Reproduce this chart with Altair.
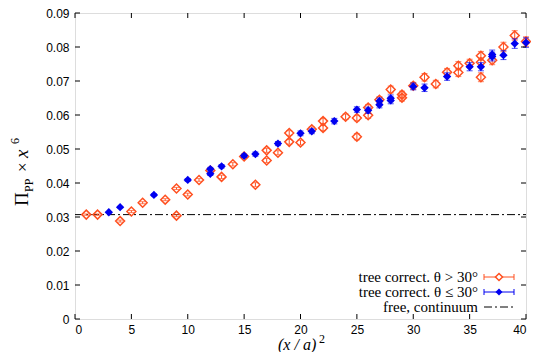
import altair as alt
import pandas as pd

# ---- data ----
orange_x = [1, 2, 4, 5, 6, 8, 9, 9, 10, 11, 12, 13, 14, 15, 16, 17, 17, 18, 19, 19,
            20, 21, 22, 22, 24, 25, 25, 26, 26, 27, 28, 29, 29, 30, 31, 32, 33, 34, 34, 35,
            36, 36, 36, 37, 38, 39, 40]
orange_y = [0.0307, 0.0307, 0.0288, 0.0316, 0.0342, 0.0351, 0.0384, 0.0304, 0.0366, 0.0409,
            0.0437, 0.0418, 0.0455, 0.0478, 0.0395, 0.0496, 0.0466, 0.0489, 0.0547, 0.0521,
            0.0519, 0.0558, 0.0582, 0.0562, 0.0595, 0.0591, 0.0536, 0.0622, 0.0599, 0.0645,
            0.0675, 0.0660, 0.0651, 0.0686, 0.0711, 0.0691, 0.0726, 0.0745, 0.0725, 0.0752,
            0.0774, 0.0755, 0.0711, 0.0761, 0.0800, 0.0834, 0.0816]
orange_err = [0.0002, 0.0002, 0.0003, 0.0003, 0.0003, 0.0003, 0.0003, 0.0003, 0.0004, 0.0004,
              0.0005, 0.0005, 0.0005, 0.0005, 0.0006, 0.0006, 0.0006, 0.0006, 0.0007, 0.0007,
              0.0007, 0.0007, 0.0008, 0.0008, 0.0008, 0.0008, 0.0009, 0.0009, 0.0009, 0.0009,
              0.0010, 0.0010, 0.0010, 0.0010, 0.0011, 0.0011, 0.0011, 0.0012, 0.0012, 0.0012,
              0.0013, 0.0013, 0.0013, 0.0013, 0.0014, 0.0014, 0.0014]

blue_x = [3, 4, 7, 10, 12, 12, 13, 15, 16, 18, 20, 21, 23, 25, 26, 27, 27, 28, 28, 30,
          31, 33, 35, 36, 37, 37, 38, 39, 40]
blue_y = [0.0314, 0.0329, 0.0365, 0.0409, 0.0441, 0.0427, 0.0449, 0.0480, 0.0485, 0.0516,
          0.0546, 0.0552, 0.0582, 0.0616, 0.0614, 0.0641, 0.0630, 0.0649, 0.0643, 0.0684,
          0.0680, 0.0713, 0.0742, 0.0742, 0.0778, 0.0772, 0.0776, 0.0810, 0.0813]
blue_err = [0.0002, 0.0002, 0.0003, 0.0004, 0.0005, 0.0005, 0.0005, 0.0005, 0.0006, 0.0006,
            0.0007, 0.0007, 0.0008, 0.0008, 0.0009, 0.0009, 0.0009, 0.0010, 0.0010, 0.0010,
            0.0011, 0.0011, 0.0012, 0.0012, 0.0013, 0.0013, 0.0013, 0.0014, 0.0014]

free_x = [0, 40]
free_y = [0.0307, 0.0307]

x_ticks = [0, 5, 10, 15, 20, 25, 30, 35, 40]
y_ticks = [0, 0.01, 0.02, 0.03, 0.04, 0.05, 0.06, 0.07, 0.08, 0.09]

legend_labels = ["tree correct. \u03b8 > 30\u00b0", "tree correct. \u03b8 \u2264 30\u00b0", "free, continuum"]

# ---- styling ----
W, H = 451, 306
ORANGE = "#ff5020"
BLUE = "#0000f0"
SERIF = "Liberation Serif"
SANS = "Liberation Sans"

xscale = alt.Scale(domain=[0, 40], nice=False, zero=False)
yscale = alt.Scale(domain=[0, 0.09], nice=False, zero=False)
xaxis = alt.Axis(title=None, ticks=False, domain=False, grid=False, values=x_ticks,
                 labelFont=SANS, labelFontSize=12, labelColor="black", labelPadding=5)
yaxis = alt.Axis(title=None, ticks=False, domain=False, grid=False, values=y_ticks,
                 labelFont=SANS, labelFontSize=12, labelColor="black", labelPadding=6,
                 labelExpr="datum.value == 0 ? '0' : format(datum.value, '.2f')")
X = alt.X("x:Q", scale=xscale, axis=xaxis)
Y = alt.Y("y:Q", scale=yscale, axis=yaxis)

odf = pd.DataFrame({"x": orange_x, "y": orange_y, "e": orange_err})
odf["lo"] = odf["y"] - odf["e"]
odf["hi"] = odf["y"] + odf["e"]
bdf = pd.DataFrame({"x": blue_x, "y": blue_y, "e": blue_err})
bdf["lo"] = bdf["y"] - bdf["e"]
bdf["hi"] = bdf["y"] + bdf["e"]
fdf = pd.DataFrame({"x": free_x, "y": free_y})
xt = pd.DataFrame({"x": x_ticks})
yt = pd.DataFrame({"y": y_ticks})
one = pd.DataFrame({"a": [0]})

layers = []
# free continuum line
layers.append(alt.Chart(fdf).mark_line(color="black", strokeWidth=1, strokeDash=[8, 3, 2, 3]).encode(x=X, y=Y))

def series(df, color, filled):
    err = alt.Chart(df).mark_rule(color=color, strokeWidth=1).encode(
        x=X, y=alt.Y("lo:Q", scale=yscale, axis=yaxis), y2="hi:Q")
    cap_lo = alt.Chart(df).mark_tick(color=color, orient="horizontal", size=6, thickness=1).encode(
        x=X, y=alt.Y("lo:Q", scale=yscale, axis=yaxis))
    cap_hi = alt.Chart(df).mark_tick(color=color, orient="horizontal", size=6, thickness=1).encode(
        x=X, y=alt.Y("hi:Q", scale=yscale, axis=yaxis))
    if filled:
        pts = alt.Chart(df).mark_point(shape="diamond", filled=True, color=color, size=70, opacity=1).encode(x=X, y=Y)
    else:
        pts = alt.Chart(df).mark_point(shape="diamond", filled=False, color=color, size=80,
                                       strokeWidth=1.5, opacity=1).encode(x=X, y=Y)
    return [err, cap_lo, cap_hi, pts]

layers += series(odf, ORANGE, False)
layers += series(bdf, BLUE, True)

# inward ticks (gnuplot style), all four sides
layers.append(alt.Chart(xt).mark_rule(color="black").encode(x=X, y=alt.value(H), y2=alt.value(H - 5)))
layers.append(alt.Chart(xt).mark_rule(color="black").encode(x=X, y=alt.value(0), y2=alt.value(5)))
layers.append(alt.Chart(yt).mark_rule(color="black").encode(y=Y, x=alt.value(0), x2=alt.value(5)))
layers.append(alt.Chart(yt).mark_rule(color="black").encode(y=Y, x=alt.value(W), x2=alt.value(W - 5)))

# legend (bottom right, inside)
rows_y = [264, 279, 294]
lx0, lx1, lxm, ltx = 409, 439, 424, 403
for label, ry in zip(legend_labels, rows_y):
    layers.append(alt.Chart(one).mark_text(text=label, font=SERIF, fontSize=15, align="right",
                                            baseline="middle", color="black").encode(
        x=alt.value(ltx), y=alt.value(ry)))
for color, ry, filled in [(ORANGE, rows_y[0], False), (BLUE, rows_y[1], True)]:
    layers.append(alt.Chart(one).mark_rule(color=color, strokeWidth=1).encode(
        x=alt.value(lx0), x2=alt.value(lx1), y=alt.value(ry)))
    for cx in (lx0, lx1):
        layers.append(alt.Chart(one).mark_rule(color=color, strokeWidth=1).encode(
            x=alt.value(cx), y=alt.value(ry - 3), y2=alt.value(ry + 3)))
    if filled:
        layers.append(alt.Chart(one).mark_point(shape="diamond", filled=True, color=color, size=50, opacity=1).encode(
            x=alt.value(lxm), y=alt.value(ry)))
    else:
        layers.append(alt.Chart(one).mark_point(shape="diamond", filled=True, fill="white", stroke=color,
                                                 size=50, strokeWidth=1.5, opacity=1).encode(
            x=alt.value(lxm), y=alt.value(ry)))
layers.append(alt.Chart(one).mark_rule(color="black", strokeWidth=1, strokeDash=[8, 3, 2, 3]).encode(
    x=alt.value(lx0), x2=alt.value(lx1), y=alt.value(rows_y[2])))

# y-axis title: Π_PP × x^6 (rotated)
ytitle = [
    ("\u03a0", -47, 193, 19, "normal"),
    ("PP", -42, 179, 12, "normal"),
    ("\u00d7", -47, 159, 17, "normal"),
    ("x", -47, 145, 19, "italic"),
    ("6", -56, 131, 12, "normal"),
]
for t, tx, ty, fs, st in ytitle:
    layers.append(alt.Chart(one).mark_text(text=t, font=SERIF, fontSize=fs, fontStyle=st, angle=270,
                                            align="left", baseline="alphabetic", color="black").encode(
        x=alt.value(tx), y=alt.value(ty)))

# x-axis title: (x / a)^2
layers.append(alt.Chart(one).mark_text(text="(x / a)", font=SERIF, fontSize=16, fontStyle="italic",
                                        align="left", baseline="alphabetic", color="black").encode(
    x=alt.value(203), y=alt.value(337)))
layers.append(alt.Chart(one).mark_text(text="2", font=SERIF, fontSize=12, align="left",
                                        baseline="alphabetic", color="black").encode(
    x=alt.value(244), y=alt.value(330)))

chart = alt.layer(*layers).properties(
    width=W, height=H,
    autosize=alt.AutoSizeParams(type="none"),
    padding={"left": 67, "top": 5, "right": 5, "bottom": 33},
).configure_view(stroke="black", strokeWidth=1).configure(background="white")

chart.save("out.html", embed_options={"renderer": "svg", "actions": False})
